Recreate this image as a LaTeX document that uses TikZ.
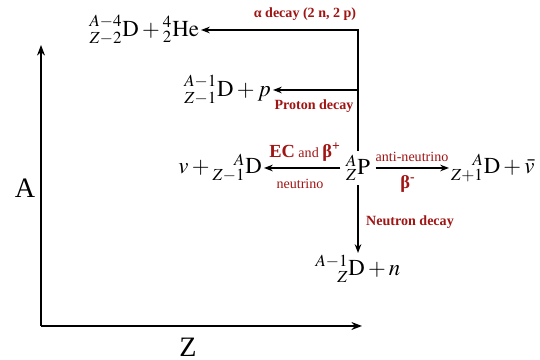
\documentclass[tikz,border=0pt]{standalone}
\usepackage{amsmath}
\usepackage{mathptmx}
\usepackage{fontspec}
\setmainfont{Liberation Serif}
\usepackage{tikz}
\usetikzlibrary{arrows.meta,positioning,calc}
\definecolor{deepred}{HTML}{A01414}

% nuclide with right-aligned prescripts
\newcommand{\nuc}[3]{%
  \setbox0\hbox{$\scriptstyle#1$}\setbox2\hbox{$\scriptstyle#2$}%
  \ifdim\wd0>\wd2 \dimen0=\wd0 \else \dimen0=\wd2 \fi
  {}^{\hbox to\dimen0{\hfil\box0}}_{\hbox to\dimen0{\hfil\box2}}\mathrm{#3}}

\begin{document}
\begin{tikzpicture}[
    nuclide/.style={inner sep=1pt, font=\fontsize{13}{15}\selectfont},
    decay/.style={text=deepred, font=\bfseries\fontsize{8}{10}\selectfont},
    particle/.style={text=deepred, font=\fontsize{8}{10}\selectfont},
    axislabel/.style={font=\fontsize{16}{18}\selectfont},
    arrow/.style={-{Stealth[length=5pt]}, thick},
    axis/.style={-{Stealth[length=6pt]}, very thick}
]
\useasboundingbox (0,0) rectangle (10.8,7.2);

% axes
\coordinate (origin) at (0.82,0.68);
\coordinate (atop) at (0.82,6.3);
\coordinate (zend) at (7.24,0.68);
\draw[axis] (origin) -- (atop);
\draw[axis] (origin) -- (zend);
\node[axislabel] (alab) at (0.5,3.44) {A};
\node[axislabel] (zlab) at (3.76,0.26) {Z};

% parent and daughters
\node[nuclide, inner xsep=3pt, inner ysep=2pt] (parent) at (7.16,3.84) {$\nuc{A}{Z}{P}$};
\node[nuclide, anchor=west] (bminus) at (8.98,3.84) {$\nuc{A}{Z+1}{D}+\bar{v}$};
\node[nuclide, anchor=east] (bplus) at (5.28,3.84) {$v+\nuc{A}{Z-1}{D}$};
\node[nuclide, anchor=east] (alpha) at (4.02,6.6) {$\nuc{A-4}{Z-2}{D}+\nuc{4}{2}{He}$};
\node[nuclide, anchor=east] (proton) at (5.46,5.4) {$\nuc{A-1}{Z-1}{D}+p$};
\node[nuclide, anchor=north] (neutron) at (7.16,2.14) {$\nuc{A-1}{Z}{D}+n$};

\coordinate (corner) at (parent.north |- alpha.east);

\draw[arrow] (parent.north) -- (corner) -- (alpha.east);
\draw[arrow] (parent.north |- proton.east) -- (proton.east);
\draw[arrow] (parent.west) -- (bplus.east);
\draw[arrow] (parent.east) -- (bminus.west);
\draw[arrow] (parent.south) -- (neutron.north);

% decay labels
\node[decay] (alphatxt) at (6.1,6.92) {α decay (2 n, 2 p)};
\node[decay] (protontxt) at (6.28,5.08) {Proton decay};
\node[decay] (ectxt) at (6.1,4.16) {{\fontsize{10.5}{12}\selectfont EC} {\mdseries and} {\fontsize{10.5}{12}\selectfont β\textsuperscript{+}}};
\node[particle] (nutxt) at (6.0,3.52) {neutrino};
\node[particle] (antinutxt) at (8.24,4.06) {anti-neutrino};
\node[decay] (bmtxt) at (8.16,3.52) {{\fontsize{10.5}{12}\selectfont β\textsuperscript{-}}};
\node[decay] (neutrontxt) at (8.2,2.76) {Neutron decay};

\end{tikzpicture}
\end{document}
